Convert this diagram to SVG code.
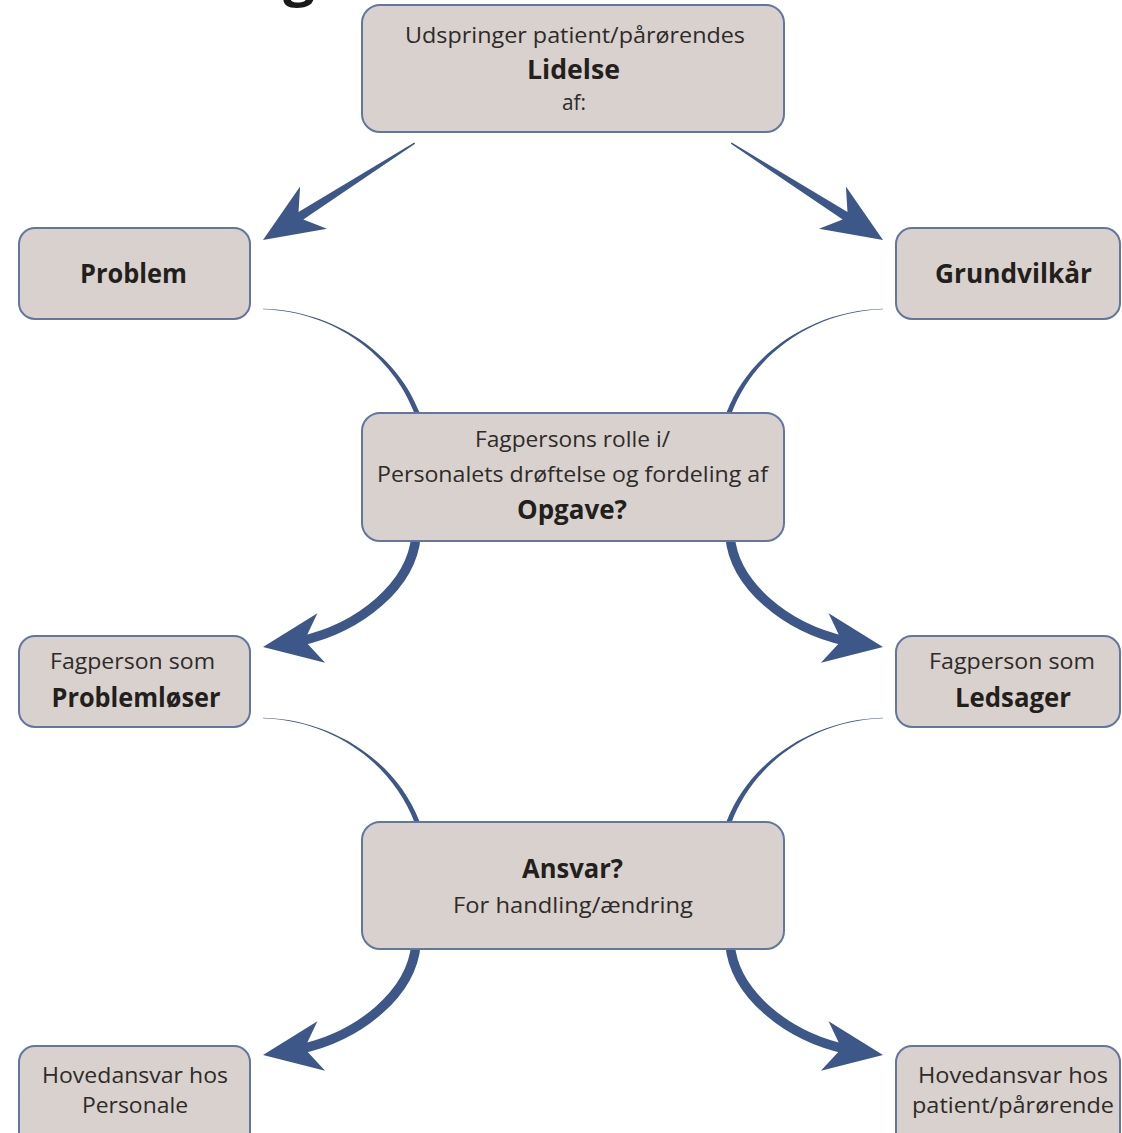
<svg xmlns="http://www.w3.org/2000/svg" xmlns:xlink="http://www.w3.org/1999/xlink" width="1122" height="1133" viewBox="0 0 1122 1133">
<style>
.box{fill:#d8d1ce;stroke:#6276a0;stroke-width:2}
.arr{fill:#3d5788}
.shaft{fill:none;stroke:#3d5788;stroke-width:9.5}
text{font-family:"Open Sans","Noto Sans","Liberation Sans",sans-serif;text-anchor:middle}
.r{font-size:22px;fill:#2e2b29}
.b{font-size:26px;font-weight:bold;fill:#231f1c}
</style>
<defs>
<path id="thinL" d="M263,308.7 C335,310.5 397,354 419.3,412.1 L414.7,413.9 C393,356 335,311.5 263,309.3 Z"/>
<path id="thinR" d="M883,308.7 C811,310.5 749,354 726.7,412.1 L731.3,413.9 C753,356 811,311.5 883,309.3 Z"/>
<g id="thickL"><path class="shaft" d="M416,536 C412,585 360,628 300,641.1"/><path d="M325.1,662.7 L263,647 L317.4,613.3 L304.5,640.4 Z"/></g>
<g id="thickR"><path class="shaft" d="M730,536 C734,585 786,628 846,641.1"/><path d="M820.9,662.7 L883,647 L828.6,613.3 L841.5,640.4 Z"/></g>
</defs>
<rect width="1122" height="1133" fill="#ffffff"/>
<text x="299" y="-5" style="font-size:56px;font-weight:bold;fill:#1a1a1a">g</text>
<g id="connectors" class="arr">
<path d="M415.1,143.8 L303.3,219.6 L327,228.8 L263,240 L300.1,186.6 L298.5,212 L414.3,142.6 Z"/>
<path d="M730.9,143.8 L842.7,219.6 L819,228.8 L883,240 L845.9,186.6 L847.5,212 L731.7,142.6 Z"/>
<use xlink:href="#thinL"/>
<use xlink:href="#thinR"/>
<use xlink:href="#thickL"/>
<use xlink:href="#thickR"/>
<use xlink:href="#thinL" transform="translate(0,409)"/>
<use xlink:href="#thinR" transform="translate(0,409)"/>
<use xlink:href="#thickL" transform="translate(0,408)"/>
<use xlink:href="#thickR" transform="translate(0,408)"/>
</g>
<g id="node-lidelse">
<rect class="box" x="362" y="5" width="422" height="127" rx="18"/>
<text class="r" x="575" y="43" textLength="340" lengthAdjust="spacingAndGlyphs">Udspringer patient/pårørendes</text>
<text class="b" x="573.5" y="79" textLength="93" lengthAdjust="spacingAndGlyphs">Lidelse</text>
<text class="r" x="574" y="110" textLength="24" lengthAdjust="spacingAndGlyphs">af:</text>
</g>
<g id="node-problem">
<rect class="box" x="19" y="228" width="231" height="91" rx="16"/>
<text class="b" x="133.5" y="283" textLength="107" lengthAdjust="spacingAndGlyphs">Problem</text>
</g>
<g id="node-grundvilkaar">
<rect class="box" x="896" y="228" width="224" height="91" rx="16"/>
<text class="b" x="1013.5" y="283" textLength="157" lengthAdjust="spacingAndGlyphs">Grundvilkår</text>
</g>
<g id="node-opgave">
<rect class="box" x="362" y="413" width="422" height="128" rx="18"/>
<text class="r" x="572.5" y="447" textLength="195" lengthAdjust="spacingAndGlyphs">Fagpersons rolle i/</text>
<text class="r" x="572.5" y="482" textLength="391" lengthAdjust="spacingAndGlyphs">Personalets drøftelse og fordeling af</text>
<text class="b" x="572" y="519" textLength="110" lengthAdjust="spacingAndGlyphs">Opgave?</text>
</g>
<g id="node-problemloeser">
<rect class="box" x="19" y="636" width="231" height="91" rx="16"/>
<text class="r" x="132.5" y="669" textLength="165" lengthAdjust="spacingAndGlyphs">Fagperson som</text>
<text class="b" x="136" y="707" textLength="169" lengthAdjust="spacingAndGlyphs">Problemløser</text>
</g>
<g id="node-ledsager">
<rect class="box" x="896" y="636" width="224" height="91" rx="16"/>
<text class="r" x="1012" y="669" textLength="166" lengthAdjust="spacingAndGlyphs">Fagperson som</text>
<text class="b" x="1013" y="707" textLength="116" lengthAdjust="spacingAndGlyphs">Ledsager</text>
</g>
<g id="node-ansvar">
<rect class="box" x="362" y="822" width="422" height="127" rx="18"/>
<text class="b" x="572.5" y="878" textLength="101" lengthAdjust="spacingAndGlyphs">Ansvar?</text>
<text class="r" x="573" y="913" textLength="240" lengthAdjust="spacingAndGlyphs">For handling/ændring</text>
</g>
<g id="node-personale">
<rect class="box" x="19" y="1046" width="231" height="110" rx="16"/>
<text class="r" x="135" y="1083" textLength="186" lengthAdjust="spacingAndGlyphs">Hovedansvar hos</text>
<text class="r" x="135" y="1113" textLength="106" lengthAdjust="spacingAndGlyphs">Personale</text>
</g>
<g id="node-patient">
<rect class="box" x="896" y="1046" width="224" height="110" rx="16"/>
<text class="r" x="1013" y="1083" textLength="190" lengthAdjust="spacingAndGlyphs">Hovedansvar hos</text>
<text class="r" x="1013" y="1113" textLength="202" lengthAdjust="spacingAndGlyphs">patient/pårørende</text>
</g>
</svg>
